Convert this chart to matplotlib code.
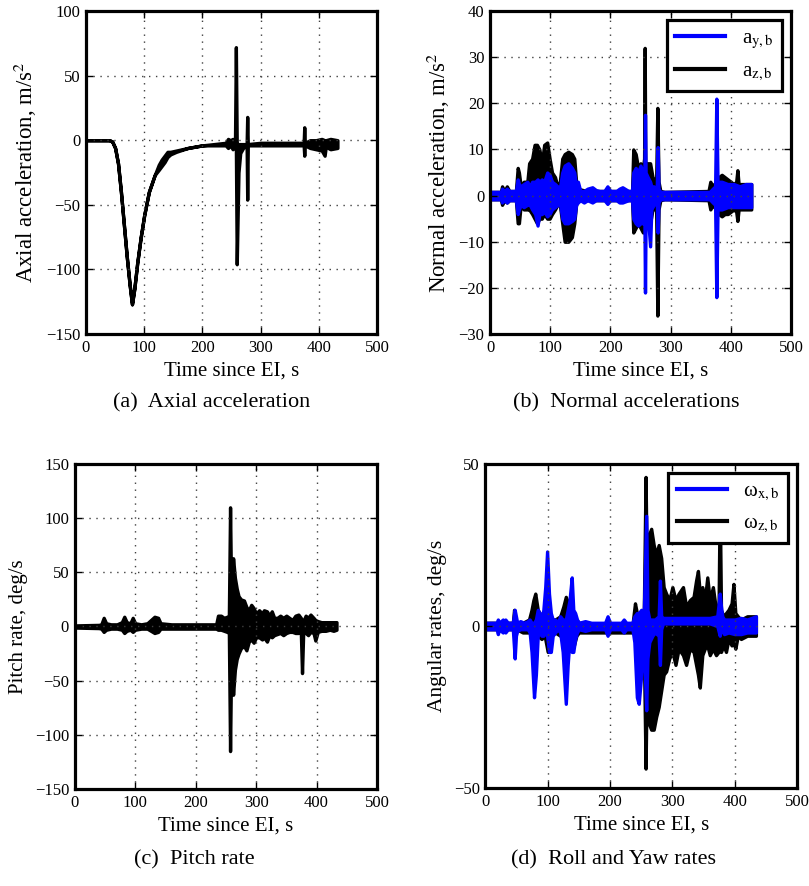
import numpy as np
import matplotlib
matplotlib.use('Agg')
import matplotlib.pyplot as plt
from matplotlib.lines import Line2D

plt.rcParams['font.family'] = ['Liberation Serif', 'DejaVu Serif']
plt.rcParams['mathtext.fontset'] = 'stix'

# data: (time s, upper envelope, lower envelope)
axial = np.array([
    (0, 0, 0), (40, 0, 0), (45, -1, -1), (50, -6, -6), (55, -18, -18), (60, -40, -40),
    (65, -65, -65), (70, -90, -90), (75, -112, -112), (79, -127, -127), (83, -115, -115),
    (88, -95, -95), (94, -75, -75), (100, -58, -58), (108, -40, -40), (118, -27, -27),
    (125, -19, -23), (130, -15, -20), (135, -12, -17), (140, -9, -13), (145, -9, -11),
    (155, -8, -9), (175, -6, -6), (200, -4, -4), (240, -2, -4), (244, 1, -6), (248, 0, -4),
    (252, 1, -7), (256, -1, -4), (257.5, 72, -4), (259, -3, -96), (260.5, -3, -60),
    (262, -3, -25), (265, -3, -10), (270, -3, -6), (276, -3, -4), (277, 18, -46),
    (278, -3, -4), (300, -2, -4), (374, -2, -4), (375, 10, -12), (376, -2, -4),
    (385, 0, -6), (395, 0, -7), (405, 1, -8), (410, 0, -12), (412, 0, -5), (420, 1, -7),
    (432, 0, -6)])

a_z = np.array([
    (0, 0.8, -0.8), (18, 0.8, -0.8), (20, 2, -2), (24, 1, -1), (28, 2, -1.5), (32, 1, -1),
    (43, 1, -1), (46, 6, -6), (48, 5, -6), (51, 2, -2), (56, 3, -3), (62, 3, -3), (65, 7, -3),
    (70, 8, -4), (74, 11, -5), (78, 11, -6), (82, 10, -5), (86, 7, -5), (90, 11, -4),
    (95, 11.5, -5), (99, 8, -5), (103, 5, -4), (108, 4, -3), (112, 2, -2), (116, 3, -2),
    (120, 8, -6), (124, 9, -10), (130, 9.5, -10), (136, 9, -9), (140, 8, -6), (143, 3, -2),
    (146, 1.5, -1), (160, 1, -1), (195, 1, -1), (236, 1, -1), (238, 10, -8), (242, 9, -7),
    (246, 6, -6), (250, 7, -7), (254, 6, -8), (256, 8, -7), (257, 32, -6), (258, 6, -7),
    (262, 7, -6), (266, 7, -6), (270, 4, -3), (276, 3, -3), (278, 19, -26), (280, 3, -3),
    (283, 1, -1), (290, 0.8, -0.8), (363, 1, -1), (366, 3, -3), (370, 2, -2), (375, 3, -3),
    (380, 4, -4), (385, 4.5, -4.5), (390, 4, -4), (395, 3.5, -4), (400, 3, -3.5),
    (405, 2.5, -3), (409, 3, -3.5), (411, 5.5, -5.5), (413, 2.5, -3), (420, 2.5, -3),
    (434, 2.5, -3)])

a_y = np.array([
    (0, 0.8, -0.8), (18, 0.8, -0.8), (20, 1.5, -1.5), (24, 1, -1), (28, 1.5, -1.5), (32, 1, -1),
    (43, 1, -1), (46, 3.5, -4), (48, 2.5, -3), (51, 2, -2), (56, 2.5, -2.5), (62, 3, -2),
    (66, 2, -2), (70, 3, -3), (75, 3, -4), (79, 3.5, -6.5), (82, 3, -4), (86, 3.5, -4),
    (90, 3, -3.5), (95, 5, -4.5), (99, 4.5, -4), (103, 3, -3), (108, 2.5, -2.5), (112, 2, -2),
    (116, 1.5, -1.5), (120, 5, -5), (124, 6.5, -6), (130, 7, -6), (136, 6, -5.5), (140, 5, -5),
    (143, 2, -2), (146, 3, -1.5), (150, 1, -1), (156, 1, -1.5), (162, 1.5, -1), (170, 1.8, -1.5),
    (176, 1.2, -1), (182, 1, -1), (190, 1, -1), (195, 2, -1.8), (200, 1, -1), (210, 1, -1),
    (215, 1.5, -1.5), (220, 1.8, -1.5), (230, 1, -1), (236, 1, -1), (238, 5, -5), (242, 6, -6),
    (246, 5, -6.5), (250, 6.5, -6), (254, 5, -6), (256.5, 5, -5), (257.5, 17.5, -21),
    (258.5, 5, -5), (262, 4, -4), (266, 3, -11), (268, 2, -3), (272, 2, -2), (277, 1.5, -1.5),
    (278.5, 10.5, -8), (280, 1.5, -1.5), (283, 0.8, -0.8), (365, 0.8, -0.8), (370, 1.5, -1.5),
    (374, 2, -2), (376, 21, -22), (378, 3, -3), (385, 3, -3), (395, 2.5, -2.5), (405, 2.5, -2.5),
    (415, 2, -2.5), (425, 2.5, -2.5), (434, 2.5, -2.5)])

pitch = np.array([
    (0, 1, -1), (40, 1.5, -1.5), (44, 2, -2), (48, 8, -5), (52, 3, -3), (60, 2, -2), (70, 2, -2),
    (78, 4, -3), (82, 9, -6), (86, 4, -4), (92, 3, -3), (96, 8, -5), (100, 3, -3), (110, 2, -2),
    (120, 3, -2), (126, 6, -4), (132, 9, -6), (138, 8, -5), (142, 3, -2), (160, 2, -2),
    (200, 2, -2), (234, 2, -2), (237, 10, -3), (242, 10, -3), (247, 8, -4), (252, 9, -5),
    (255, 10, -6), (257, 110, -115), (259, 20, -20), (262, 63, -63), (265, 45, -40),
    (268, 35, -30), (271, 28, -25), (275, 25, -20), (280, 24, -18), (284, 18, -22),
    (288, 15, -14), (292, 20, -12), (296, 17, -15), (300, 12, -10), (305, 15, -10),
    (310, 12, -12), (313, 15, -10), (318, 14, -14), (322, 10, -8), (326, 14, -10),
    (330, 8, -8), (335, 8, -7), (340, 10, -6), (345, 8, -8), (350, 10, -6), (355, 8, -5),
    (360, 6, -5), (365, 10, -6), (370, 11, -6), (374, 8, -5), (376, 5, -43), (378, 5, -5),
    (382, 10, -6), (386, 8, -8), (390, 11, -5), (395, 8, -6), (398, 6, -13), (402, 5, -5),
    (408, 4, -4), (415, 4, -4), (422, 4, -3), (428, 4, -4), (433, 4, -3)])

w_x = np.array([
    (0, 1, -1), (18, 1, -1), (20, 2, -2.5), (22, 1, -1), (28, 2, -2), (30, 1, -1), (32, 2, -2),
    (36, 1, -1), (44, 1, -1), (47, 5, -10), (49, 3, -3), (51, 1, -1.5), (56, 1.5, -1),
    (62, 1, -1), (68, 1.5, -1), (71, 2, -2), (74, 1, -8), (78, 1, -22), (81, 2, -15),
    (84, 5, -3), (87, 4, -2), (90, 2, -3), (93, 5, -3), (96, 12, -2), (99, 23, -3),
    (102, 10, -8), (105, 4, -8), (108, 2, -3), (112, 2, -2), (116, 1, -1), (120, 3, -2),
    (124, 2, -8), (129, 2, -24), (132, 5, -12), (135, 8, -4), (138.5, 15, -8), (141, 5, -8),
    (144, 4, -4), (147, 2, -2), (150, 1, -1), (160, 1.5, -1.5), (170, 1, -1), (192, 1, -1),
    (196, 3, -3), (200, 1, -1), (218, 1, -1), (222, 2, -2), (226, 1, -1), (236, 1, -1),
    (239, 3, -5), (243, 4, -22), (246, 4, -24), (250, 5, -15), (254, 3, -5), (258, 34, -26),
    (260, 5, -10), (263, 2, -5), (268, 2, -3), (272, 2, -2), (278, 3, -3), (280, 14, -12),
    (282, 3, -1), (285, 2.5, 0.8), (300, 2.5, 0.8), (360, 2.5, 0.8), (372, 3, 0),
    (376, 10, -3), (378, 6, -1), (380, 3, -1), (383, 2, -2.5), (390, 2, -2), (400, 2, -2.5),
    (410, 2.5, -2.5), (420, 2, -2), (434, 3, -2)])

w_z = np.array([
    (0, 1, -1), (44, 1, -1), (46, 5, -2), (48, 2, -2), (50, 1, -1), (60, 1, -2), (70, 2, -2),
    (74, 5, -2), (77, 8, -3), (80, 10, -3), (84, 5, -3), (90, 3, -4), (95, 4, -3),
    (100, 3, -8), (103, 4, -7), (106, 2, -3), (112, 2, -2), (120, 3, -3), (125, 6, -3),
    (129, 9, -3), (133, 7, -3), (138, 4, -5), (142, 2, -6), (146, 2, -3), (150, 1, -2),
    (200, 0.5, -2), (236, 0.5, -2), (240, 7, -2), (243, 4, -2), (250, 3, -3), (254, 2, -4),
    (257, 46, -44), (259, 15, -15), (262, 28, -30), (266, 30, -32), (270, 25, -32),
    (274, 22, -28), (278, 25, -25), (282, 21, -20), (286, 12, -15), (290, 10, -14),
    (295, 8, -10), (300, 12, -8), (305, 8, -12), (310, 10, -7), (317, 12, -9), (322, 6, -12),
    (328, 8, -7), (334, 9, -8), (338, 14, -12), (341, 17, -15), (344, 10, -19), (348, 12, -9),
    (352, 8, -7), (356, 15, -6), (360, 8, -9), (365, 12, -7), (370, 5, -9), (374, 4, -8),
    (376, 40, -5), (378, 5, -8), (382, 3, -6), (386, 4, -8), (390, 5, -4), (395, 7, -6),
    (398, 13, -5), (401, 4, -7), (405, 3, -3), (410, 2, -4), (420, 3, -3), (428, 3, -3),
    (434, 3, -3)])

x_ticks = [0, 100, 200, 300, 400, 500]
blue = (0, 0, 1)


def band(ax, data, color):
    t, hi, lo = data.T
    ax.fill_between(t, lo, hi, facecolor=color, edgecolor=color, lw=2.4, joinstyle='round')


def style(ax, ylim, yticks, ylabel, ysize):
    ax.set_xlim(0, 500)
    ax.set_ylim(*ylim)
    ax.set_xticks(x_ticks)
    ax.set_yticks(yticks)
    ax.grid(True, color='0.25', linestyle=(0, (1, 4)), lw=1.0)
    ax.tick_params(direction='in', top=True, right=True, length=5, width=1,
                   labelsize=12, pad=4)
    for s in ax.spines.values():
        s.set_linewidth(2.3)
    ax.set_xlabel('Time since EI, s', fontsize=15, labelpad=4)
    ax.set_ylabel(ylabel, fontsize=ysize, labelpad=5)


def legend(ax, labels):
    h = [Line2D([], [], color=blue, lw=3), Line2D([], [], color='black', lw=3)]
    leg = ax.legend(h, labels, loc='upper right', fontsize=15, fancybox=False,
                    framealpha=1, edgecolor='black', handlelength=2.4,
                    borderaxespad=0.45)
    leg.get_frame().set_linewidth(2.3)


fig = plt.figure(figsize=(8.09, 8.86), dpi=100)

# (a)
ax1 = fig.add_axes([0.1063, 0.623, 0.3597, 0.3646])
band(ax1, axial, 'black')
style(ax1, (-150, 100), [-150, -100, -50, 0, 50, 100], 'Axial acceleration, m/s$^2$', 16.5)

# (b)
ax2 = fig.add_axes([0.6057, 0.623, 0.372, 0.3646])
band(ax2, a_z, 'black')
band(ax2, a_y, blue)
style(ax2, (-30, 40), [-30, -20, -10, 0, 10, 20, 30, 40], 'Normal acceleration, m/s$^2$', 16.5)
legend(ax2, ['a$_{\\mathrm{y,b}}$', 'a$_{\\mathrm{z,b}}$'])

# (c)
ax3 = fig.add_axes([0.0923, 0.1095, 0.3737, 0.3668])
band(ax3, pitch, 'black')
style(ax3, (-150, 150), [-150, -100, -50, 0, 50, 100, 150], 'Pitch rate, deg/s', 15)

# (d)
ax4 = fig.add_axes([0.6, 0.1106, 0.3852, 0.3657])
band(ax4, w_z, 'black')
band(ax4, w_x, blue)
style(ax4, (-50, 50), [-50, 0, 50], 'Angular rates, deg/s', 15.5)
legend(ax4, ['ω$_{\\mathrm{x,b}}$', 'ω$_{\\mathrm{z,b}}$'])

# captions
fig.text(0.2614, 0.545, '(a)  Axial acceleration', ha='center', va='center', fontsize=16)
fig.text(0.774, 0.545, '(b)  Normal accelerations', ha='center', va='center', fontsize=16)
fig.text(0.240, 0.0293, '(c)  Pitch rate', ha='center', va='center', fontsize=16)
fig.text(0.758, 0.0293, '(d)  Roll and Yaw rates', ha='center', va='center', fontsize=16)

fig.savefig('out.png', dpi=100)
